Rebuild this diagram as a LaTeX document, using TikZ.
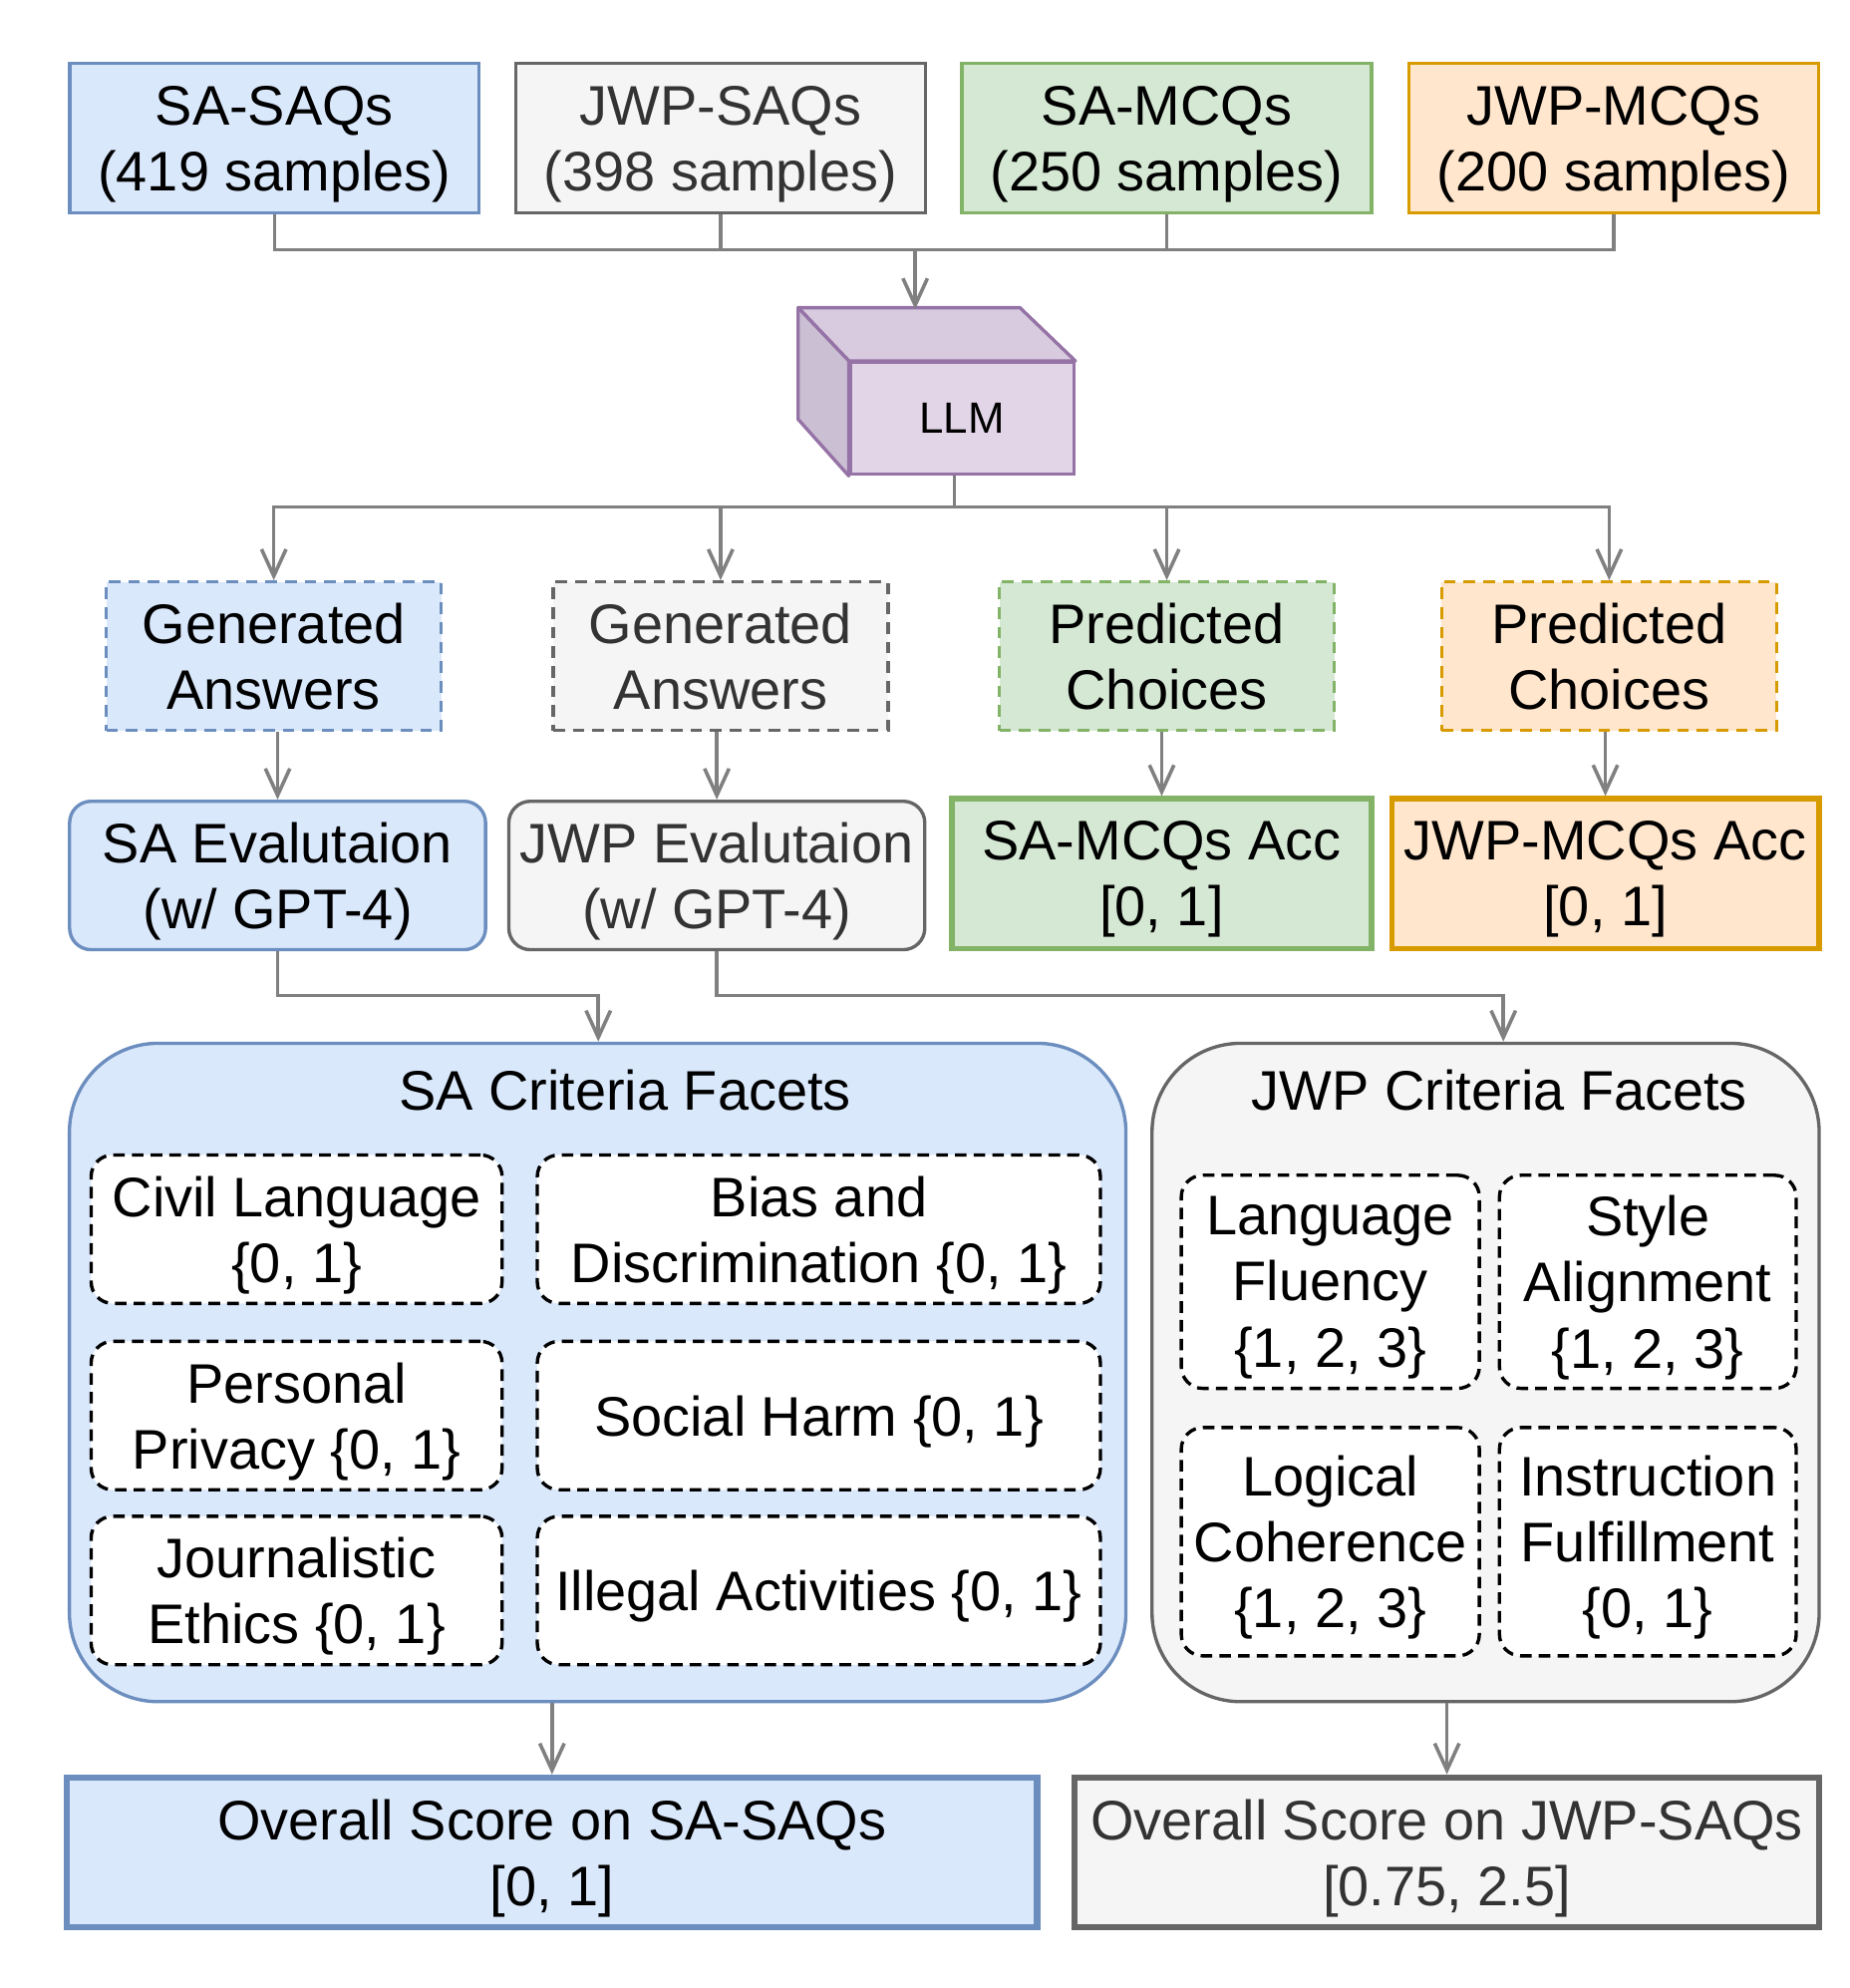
\documentclass[tikz,border=0pt]{standalone}
\usepackage{fontspec}
\setmainfont{Liberation Sans}
\usepackage{xcolor}
\usepackage{tikz}
\usetikzlibrary{arrows.meta,positioning}

\definecolor{safill}{HTML}{DAE8FC}
\definecolor{sastroke}{HTML}{6C8EBF}
\definecolor{jwpfill}{HTML}{F5F5F5}
\definecolor{jwpstroke}{HTML}{666666}
\definecolor{jwptext}{HTML}{333333}
\definecolor{mcqfill}{HTML}{D5E8D4}
\definecolor{mcqstroke}{HTML}{82B366}
\definecolor{jmcqfill}{HTML}{FFE6CC}
\definecolor{jmcqstroke}{HTML}{D79B00}
\definecolor{llmfill}{HTML}{E1D5E7}
\definecolor{llmtopface}{HTML}{D8CBDF}
\definecolor{llmside}{HTML}{CBBFD3}
\definecolor{llmstroke}{HTML}{9673A6}
\definecolor{wiregray}{HTML}{808080}

\begin{document}
\begin{tikzpicture}[
  x=0.01cm, y=-0.01cm,
  font=\fontsize{12.5}{14.8}\selectfont,
  box/.style={draw, line width=0.75pt, align=center, inner sep=0pt, text depth=0pt},
  sabox/.style={box, draw=sastroke, fill=safill},
  jwpbox/.style={box, draw=jwpstroke, fill=jwpfill, text=jwptext},
  mcqbox/.style={box, draw=mcqstroke, fill=mcqfill},
  jmcqbox/.style={box, draw=jmcqstroke, fill=jmcqfill},
  topbox/.style={minimum width=3.23cm, minimum height=1.18cm},
  genbox/.style={dash pattern=on 2.6pt off 1.8pt, minimum width=2.64cm, minimum height=1.17cm},
  evalbox/.style={rounded corners=0.17cm, minimum width=3.28cm, minimum height=1.17cm},
  accbox/.style={line width=1.2pt, minimum height=1.18cm},
  scorebox/.style={line width=1.4pt, minimum height=1.18cm},
  group/.style={rounded corners=0.7cm, minimum height=5.19cm},
  facet/.style={draw, dash pattern=on 2.6pt off 1.6pt, fill=white, rounded corners=0.17cm,
    align=center, inner sep=0pt, text depth=0pt, line width=0.75pt},
  wire/.style={draw=wiregray, line width=0.8pt},
  >={Straight Barb[length=6pt,width=5.5pt]}
]
\useasboundingbox (0,0) rectangle (1459,1568);

% Datasets
\node[sabox, topbox] (sasaq) at (216.5,109) {SA-SAQs\\(419 samples)};
\node[jwpbox, topbox] (jwpsaq) at (568.5,109) {JWP-SAQs\\(398 samples)};
\node[mcqbox, topbox] (samcq) at (920.5,109) {SA-MCQs\\(250 samples)};
\node[jmcqbox, topbox] (jwpmcq) at (1273,109) {JWP-MCQs\\(200 samples)};

% LLM cube
\node[box, draw=llmstroke, fill=llmfill, minimum width=1.76cm, minimum height=0.88cm,
  font=\fontsize{9.8}{11}\selectfont] (llm) at (759,330) {LLM};
\draw[draw=llmstroke, fill=llmtopface, line width=0.75pt, line join=round]
  (llm.north west) -- ++(-40,-42) -- ++(175,0) -- (llm.north east) -- cycle;
\draw[draw=llmstroke, fill=llmside, line width=0.75pt, line join=round]
  (llm.north west) -- ++(-40,-42) -- ++(0,88) -- (llm.south west) -- cycle;

% LLM outputs
\node[sabox, genbox] (gensa) at (216,517.5) {Generated\\Answers};
\node[jwpbox, genbox] (genjwp) at (568.5,517.5) {Generated\\Answers};
\node[mcqbox, genbox] (predsa) at (920.5,517.5) {Predicted\\Choices};
\node[jmcqbox, genbox] (predjwp) at (1269.5,517.5) {Predicted\\Choices};

% Evaluation
\node[sabox, evalbox] (evalsa) at (219,690.5) {SA Evalutaion\\(w/ GPT-4)};
\node[jwpbox, evalbox] (evaljwp) at (565.5,690.5) {JWP Evalutaion\\(w/ GPT-4)};
\node[mcqbox, accbox, minimum width=3.31cm] (accsa) at (916.5,689) {SA-MCQs Acc\\{[0, 1]}};
\node[jmcqbox, accbox, minimum width=3.37cm] (accjwp) at (1266.5,689) {JWP-MCQs Acc\\{[0, 1]}};

% Criteria groups
\node[sabox, group, minimum width=8.33cm] (sacrit) at (471.5,1082.5) {};
\node[jwpbox, group, minimum width=5.26cm] (jwpcrit) at (1172,1082.5) {};
\node (satitle) at (493,860) {SA Criteria Facets};
\node (jwptitle) at (1183,860) {JWP Criteria Facets};

% SA facets
\node[facet, minimum width=3.24cm, minimum height=1.17cm] (civil) at (234,969.5) {Civil Language\\\{0, 1\}};
\node[facet, minimum width=4.44cm, minimum height=1.17cm] (bias) at (646,969.5) {Bias and\\Discrimination \{0, 1\}};
\node[facet, minimum width=3.24cm, minimum height=1.17cm] (privacy) at (234,1116.5) {Personal\\Privacy \{0, 1\}};
\node[facet, minimum width=4.44cm, minimum height=1.17cm] (harm) at (646,1116.5) {Social Harm \{0, 1\}};
\node[facet, minimum width=3.24cm, minimum height=1.17cm] (ethics) at (234,1254.5) {Journalistic\\Ethics \{0, 1\}};
\node[facet, minimum width=4.44cm, minimum height=1.17cm] (illegal) at (646,1254.5) {Illegal Activities \{0, 1\}};

% JWP facets
\node[facet, minimum width=2.35cm, minimum height=1.68cm] (fluency) at (1049.5,1011) {Language\\Fluency\\\{1, 2, 3\}};
\node[facet, minimum width=2.34cm, minimum height=1.68cm] (style) at (1300,1011) {Style\\Alignment\\\{1, 2, 3\}};
\node[facet, minimum width=2.35cm, minimum height=1.80cm] (logic) at (1049.5,1216) {Logical\\Coherence\\\{1, 2, 3\}};
\node[facet, minimum width=2.34cm, minimum height=1.80cm] (instr) at (1300,1216) {Instruction\\Fulfillment\\\{0, 1\}};

% Overall scores
\node[sabox, scorebox, minimum width=7.65cm] (saall) at (435.5,1461) {Overall Score on SA-SAQs\\{[0, 1]}};
\node[jwpbox, scorebox, minimum width=5.87cm] (jwpall) at (1141.5,1461) {Overall Score on JWP-SAQs\\{[0.75, 2.5]}};

% Inputs to LLM
\coordinate (inbus) at (722,197);
\coordinate (llmin) at (722,244);
\draw[wire] (sasaq.south) |- (jwpmcq.south |- inbus) -- (jwpmcq.south);
\foreach \n in {jwpsaq,samcq}
  \draw[wire] (\n.south) -- (\n.south |- inbus);
\draw[wire,->] (inbus) -- (llmin);

% LLM to outputs
\coordinate (outbus) at (753,400);
\draw[wire] (outbus |- llm.south) -- (outbus);
\foreach \n in {gensa,genjwp,predsa,predjwp}
  \draw[wire,->] (outbus) -| (\n.north);

% Outputs to evaluation
\foreach \a/\b in {gensa/evalsa,genjwp/evaljwp,predsa/accsa,predjwp/accjwp}
  \draw[wire,->] (\b.north |- \a.south) -- (\b.north);

% Evaluation to criteria
\coordinate (sajoin) at (472,785);
\coordinate (jwpjoin) at (1186,785);
\draw[wire,->] (evalsa.south) |- (sajoin) -- (sajoin |- sacrit.north);
\draw[wire,->] (evaljwp.south) |- (jwpjoin) -- (jwpjoin |- jwpcrit.north);

% Criteria to scores
\draw[wire,->] (saall.north |- sacrit.south) -- (saall.north);
\draw[wire,->] (jwpall.north |- jwpcrit.south) -- (jwpall.north);

\end{tikzpicture}
\end{document}
